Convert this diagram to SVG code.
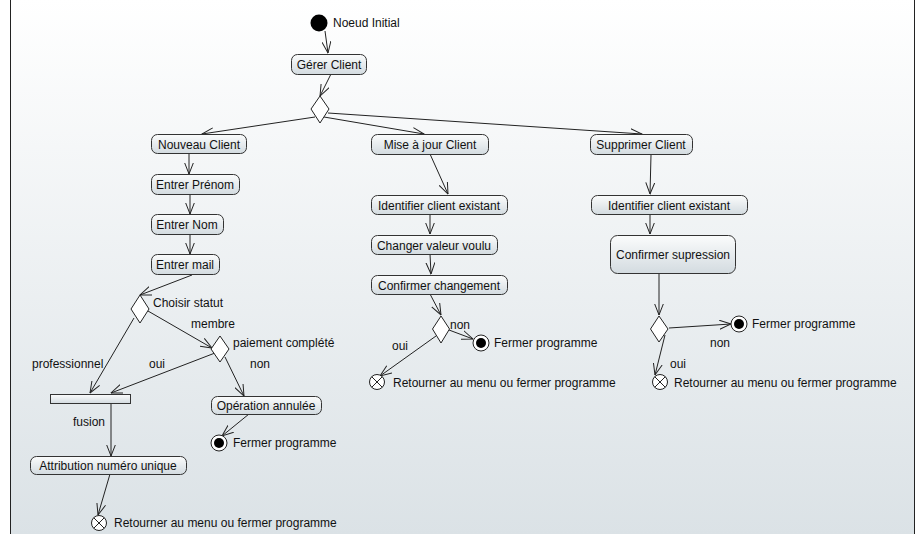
<svg xmlns="http://www.w3.org/2000/svg" width="921" height="534" viewBox="0 0 921 534">
<defs>
<linearGradient id="bg" x1="0" y1="0" x2="0" y2="1">
<stop offset="0" stop-color="#ffffff"/>
<stop offset="1" stop-color="#dbe2e6"/>
</linearGradient>
<linearGradient id="nodefill" x1="0" y1="0" x2="0" y2="1">
<stop offset="0" stop-color="#fbfcfc"/>
<stop offset="1" stop-color="#d3dbe0"/>
</linearGradient>
<marker id="arr" viewBox="0 0 12 10" refX="11.5" refY="5" markerWidth="12" markerHeight="10" markerUnits="userSpaceOnUse" orient="auto">
<path d="M0,0.5 L11.5,5 L0,9.5" fill="none" stroke="#222" stroke-width="1"/>
</marker>
</defs>
<style>
.t{font-family:"Liberation Sans",Arial,sans-serif;font-size:12px;fill:#111}
.c{text-anchor:middle}
.box{fill:url(#nodefill);stroke:#333;stroke-width:1}
.dec{fill:#fff;stroke:#222;stroke-width:1}
.e{stroke:#222;stroke-width:1;fill:none;marker-end:url(#arr)}
.fin{fill:#fff;stroke:#222;stroke-width:1}
</style>
<rect x="0" y="0" width="921" height="534" fill="#fff"/>
<rect x="10.5" y="-1" width="904" height="536" fill="url(#bg)" stroke="#222" stroke-width="1"/>

<g id="connectors">
<line class="e" x1="325" y1="31" x2="328" y2="53"/>
<line class="e" x1="331" y1="74" x2="320" y2="96"/>
<line class="e" x1="315" y1="117" x2="202" y2="134"/>
<line class="e" x1="324" y1="117" x2="424" y2="134"/>
<line class="e" x1="328" y1="113" x2="642" y2="134"/>
<line class="e" x1="189" y1="153" x2="189" y2="174"/>
<line class="e" x1="190" y1="194" x2="190" y2="214"/>
<line class="e" x1="190" y1="234" x2="190" y2="254"/>
<line class="e" x1="192" y1="275" x2="140" y2="295"/>
<line class="e" x1="148" y1="311" x2="212" y2="348"/>
<line class="e" x1="134" y1="318" x2="90" y2="393"/>
<line class="e" x1="215" y1="353" x2="111" y2="393"/>
<line class="e" x1="225" y1="357" x2="244" y2="396"/>
<line class="e" x1="111" y1="403" x2="111" y2="456"/>
<line class="e" x1="110" y1="474" x2="98" y2="515"/>
<line class="e" x1="249" y1="414" x2="222" y2="436"/>
<line class="e" x1="430" y1="154" x2="448" y2="194"/>
<line class="e" x1="430" y1="214" x2="430" y2="234"/>
<line class="e" x1="430" y1="254" x2="431" y2="274"/>
<line class="e" x1="430" y1="294" x2="441" y2="315"/>
<line class="e" x1="449" y1="330" x2="473" y2="339"/>
<line class="e" x1="436" y1="336" x2="380" y2="376"/>
<line class="e" x1="651" y1="155" x2="650" y2="194"/>
<line class="e" x1="650" y1="214" x2="650" y2="234"/>
<line class="e" x1="659" y1="273" x2="659" y2="315"/>
<line class="e" x1="669" y1="328" x2="731" y2="324"/>
<line class="e" x1="665" y1="335" x2="655" y2="375"/>
</g>

<g id="initial">
<circle cx="319" cy="23" r="8.5" fill="#000"/>
<text class="t" x="333" y="27">Noeud Initial</text>
</g>

<g id="gerer"><rect class="box" x="291.5" y="54.5" width="75" height="20" rx="6"/><text class="t c" x="329" y="69">Gérer Client</text></g>
<g id="d0"><polygon class="dec" points="320,96 329,109 320,123 311,109"/></g>

<g id="nouveau"><rect class="box" x="151.5" y="134.5" width="95" height="19" rx="6"/><text class="t c" x="199" y="148.5">Nouveau Client</text></g>
<g id="maj"><rect class="box" x="371.5" y="134.5" width="117" height="20" rx="6"/><text class="t c" x="430" y="149">Mise à jour Client</text></g>
<g id="supprimer"><rect class="box" x="590.5" y="134.5" width="102" height="20" rx="6"/><text class="t c" x="641" y="149">Supprimer Client</text></g>

<g id="prenom"><rect class="box" x="151.5" y="174.5" width="88" height="20" rx="6"/><text class="t c" x="195" y="189">Entrer Prénom</text></g>
<g id="nom"><rect class="box" x="151.5" y="214.5" width="72" height="20" rx="6"/><text class="t c" x="187" y="229">Entrer Nom</text></g>
<g id="mail"><rect class="box" x="151.5" y="254.5" width="68" height="20" rx="6"/><text class="t c" x="185" y="269">Entrer mail</text></g>

<g id="d1"><polygon class="dec" points="140,295 149,309 140,323 131,309"/><text class="t" x="153" y="307">Choisir statut</text></g>
<text class="t" x="191" y="328">membre</text>
<g id="d2"><polygon class="dec" points="220,336 229,349 220,362 211,349"/><text class="t" x="233" y="347">paiement complété</text></g>
<text class="t" x="32" y="368">professionnel</text>
<text class="t" x="149" y="368">oui</text>
<text class="t" x="250" y="368">non</text>

<g id="fork"><rect class="box" x="50.5" y="394.5" width="80" height="9"/></g>
<text class="t" x="73" y="426">fusion</text>
<g id="attribution"><rect class="box" x="30.5" y="456.5" width="156" height="18" rx="6"/><text class="t c" x="108" y="470">Attribution numéro unique</text></g>
<g id="ff1"><circle class="fin" cx="99" cy="523" r="7.5"/><path d="M93.7,517.7 L104.3,528.3 M104.3,517.7 L93.7,528.3" stroke="#222" stroke-width="1"/><text class="t" x="114" y="527">Retourner au menu ou fermer programme</text></g>

<g id="annulee"><rect class="box" x="211.5" y="396.5" width="110" height="18" rx="6"/><text class="t c" x="266" y="410">Opération annulée</text></g>
<g id="fin1"><circle class="fin" cx="219" cy="443" r="8"/><circle cx="219" cy="443" r="5" fill="#000"/><text class="t" x="233" y="447">Fermer programme</text></g>

<g id="ident1"><rect class="box" x="371.5" y="195.5" width="136" height="19" rx="6"/><text class="t c" x="439" y="209.5">Identifier client existant</text></g>
<g id="changer"><rect class="box" x="371.5" y="235.5" width="126" height="19" rx="6"/><text class="t c" x="434" y="249.5">Changer valeur voulu</text></g>
<g id="confchg"><rect class="box" x="371.5" y="275.5" width="136" height="19" rx="6"/><text class="t c" x="439" y="289.5">Confirmer changement</text></g>
<g id="d3"><polygon class="dec" points="441,316 449.5,329 441,343 432.5,329"/><text class="t" x="450" y="329">non</text></g>
<g id="fin2"><circle class="fin" cx="481" cy="343" r="8"/><circle cx="481" cy="343" r="5" fill="#000"/><text class="t" x="494" y="347">Fermer programme</text></g>
<text class="t" x="392" y="350">oui</text>
<g id="ff2"><circle class="fin" cx="377" cy="382" r="7.5"/><path d="M371.7,376.7 L382.3,387.3 M382.3,376.7 L371.7,387.3" stroke="#222" stroke-width="1"/><text class="t" x="393" y="387">Retourner au menu ou fermer programme</text></g>

<g id="ident2"><rect class="box" x="591.5" y="195.5" width="156" height="19" rx="6"/><text class="t c" x="669" y="209.5">Identifier client existant</text></g>
<g id="confsup"><rect class="box" x="610.5" y="235.5" width="125" height="38" rx="7"/><text class="t c" x="673" y="259">Confirmer supression</text></g>
<g id="d4"><polygon class="dec" points="659,316 668,329 659,342 650.5,329"/></g>
<g id="fin3"><circle class="fin" cx="739" cy="324" r="8"/><circle cx="739" cy="324" r="5" fill="#000"/><text class="t" x="752" y="328">Fermer programme</text></g>
<text class="t" x="710" y="347">non</text>
<text class="t" x="670" y="368">oui</text>
<g id="ff3"><circle class="fin" cx="660" cy="382" r="7.5"/><path d="M654.7,376.7 L665.3,387.3 M665.3,376.7 L654.7,387.3" stroke="#222" stroke-width="1"/><text class="t" x="674" y="387">Retourner au menu ou fermer programme</text></g>
</svg>
